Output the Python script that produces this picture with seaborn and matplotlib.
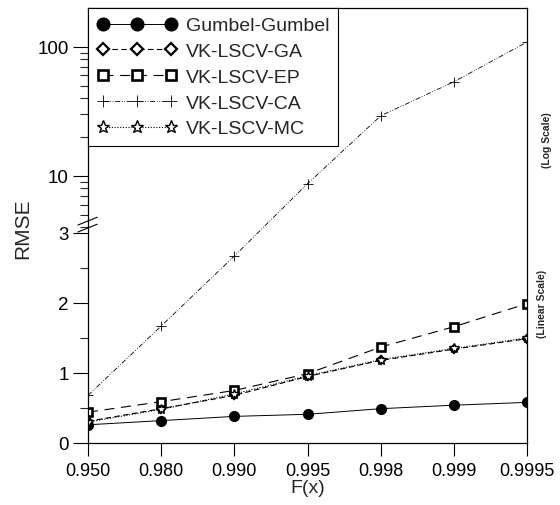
import numpy as np
import pandas as pd
import matplotlib
matplotlib.use("Agg")
import matplotlib.pyplot as plt
import seaborn as sns

# ---------------- data ----------------
fx_labels = ["0.950", "0.980", "0.990", "0.995", "0.998", "0.999", "0.9995"]
series_names = ["Gumbel-Gumbel", "VK-LSCV-GA", "VK-LSCV-EP", "VK-LSCV-CA", "VK-LSCV-MC"]
gumbel = [0.26, 0.32, 0.38, 0.41, 0.49, 0.54, 0.58]
vk_ga = [0.31, 0.49, 0.68, 0.95, 1.18, 1.34, 1.49]
vk_ep = [0.44, 0.59, 0.75, 0.99, 1.37, 1.66, 1.99]
vk_ca = [0.68, 1.67, 2.67, 8.7, 29.2, 53.6, 109.0]
vk_mc = [0.30, 0.48, 0.70, 0.96, 1.19, 1.35, 1.50]
y_major = [0, 1, 2, 3, 10, 100]
y_major_labels = ["0", "1", "2", "3", "10", "100"]
y_minor = [0.5, 1.5, 2.5, 4, 5, 6, 7, 8, 9, 20, 30, 40, 50, 60, 70, 80, 90]

values = [gumbel, vk_ga, vk_ep, vk_ca, vk_mc]
df = pd.DataFrame({
    "F(x)": fx_labels * len(series_names),
    "RMSE": [v for vals in values for v in vals],
    "series": [s for s in series_names for _ in fx_labels],
})

# ---------------- style ----------------
sns.set_style("ticks")
plt.rcParams["font.family"] = ["Liberation Sans", "DejaVu Sans"]
plt.rcParams["axes.linewidth"] = 0.9

# broken axis: linear 0..3, then log scale above
L0 = 3.615
R = 129.0 / 70.0


def fwd(y):
    y = np.asarray(y, dtype=float)
    lg = np.log10(np.maximum(y, L0))
    return np.where(y <= 3, y, 3 + (lg - np.log10(L0)) * R)


def inv(u):
    u = np.asarray(u, dtype=float)
    return np.where(u <= 3, u, L0 * 10 ** ((np.maximum(u, 3) - 3) / R))


fig = plt.figure(figsize=(5.6, 5.06), dpi=100)
ax = fig.add_axes([88 / 560, 62 / 506, 439 / 560, 435 / 506])

styles = {
    "Gumbel-Gumbel": dict(marker="o", ms=7, mfc="black", mec="black", ls="-", lw=0.7),
    "VK-LSCV-GA": dict(marker="D", ms=4.5, mfc="white", mec="black", mew=1.6, ls=(0, (5, 3)), lw=0.8),
    "VK-LSCV-EP": dict(marker="s", ms=6, mfc="white", mec="black", mew=1.9, ls=(0, (9, 6)), lw=0.8),
    "VK-LSCV-CA": dict(marker="+", ms=7, mfc="black", mec="black", mew=0.6, ls=(0, (6, 2, 1, 2, 1, 2)), lw=0.6),
    "VK-LSCV-MC": dict(marker="*", ms=7.5, mfc="white", mec="black", mew=1.0, ls=(0, (1, 1.5)), lw=0.8),
}

for name in series_names:
    sub = df[df["series"] == name]
    st = styles[name]
    sns.lineplot(data=sub, x="F(x)", y="RMSE", ax=ax, sort=False, color="black",
                 label=name, linestyle=st["ls"], linewidth=st["lw"],
                 marker=st["marker"], markersize=st["ms"],
                 markerfacecolor=st["mfc"], markeredgecolor=st["mec"],
                 markeredgewidth=st.get("mew", 1.0))

ax.set_yscale("function", functions=(fwd, inv))
ax.set_ylim(0, 200)
ax.set_xlim(0, len(fx_labels) - 1)

ax.set_yticks(y_major)
ax.set_yticklabels(y_major_labels)
ax.set_yticks(y_minor, minor=True)
ax.yaxis.set_minor_formatter(matplotlib.ticker.NullFormatter())

ax.tick_params(axis="y", which="major", direction="out", length=10.5, width=0.8,
               labelsize=13.5, pad=3.5, colors="black")
ax.tick_params(axis="y", which="minor", direction="out", length=5.5, width=0.8)
ax.tick_params(axis="x", which="major", direction="out", length=9.5, width=0.8,
               labelsize=13, pad=4, colors="black")
ax.tick_params(top=False, right=False)
for sp in ax.spines.values():
    sp.set_visible(True)
    sp.set_color("black")

ax.set_xlabel("F(x)", fontsize=14, labelpad=0)
ax.set_ylabel("RMSE", fontsize=15, labelpad=4)
ax.yaxis.set_label_coords(-0.128, 0.495)

# break marks on the left spine
for yc in (0.494, 0.510):
    ax.plot([-0.023, 0.021], [yc - 0.009, yc + 0.009], transform=ax.transAxes,
            color="black", lw=0.8, clip_on=False)

leg = ax.legend(loc="upper left", bbox_to_anchor=(0, 1), borderaxespad=0,
                frameon=True, fancybox=False, framealpha=1, edgecolor="black",
                fontsize=14, numpoints=3, handlelength=4.1, handletextpad=0.5,
                labelspacing=0.42, borderpad=0.45, markerscale=1.3)
leg.get_frame().set_linewidth(0.8)

fig.text(547 / 560, 1 - 140 / 506, "(Log Scale)", rotation=90, fontsize=7.5,
         fontweight="bold", ha="center", va="center")
fig.text(542 / 560, 1 - 304 / 506, "(Linear Scale)", rotation=90, fontsize=7.5,
         fontweight="bold", ha="center", va="center")

fig.savefig("out.png", dpi=100)
